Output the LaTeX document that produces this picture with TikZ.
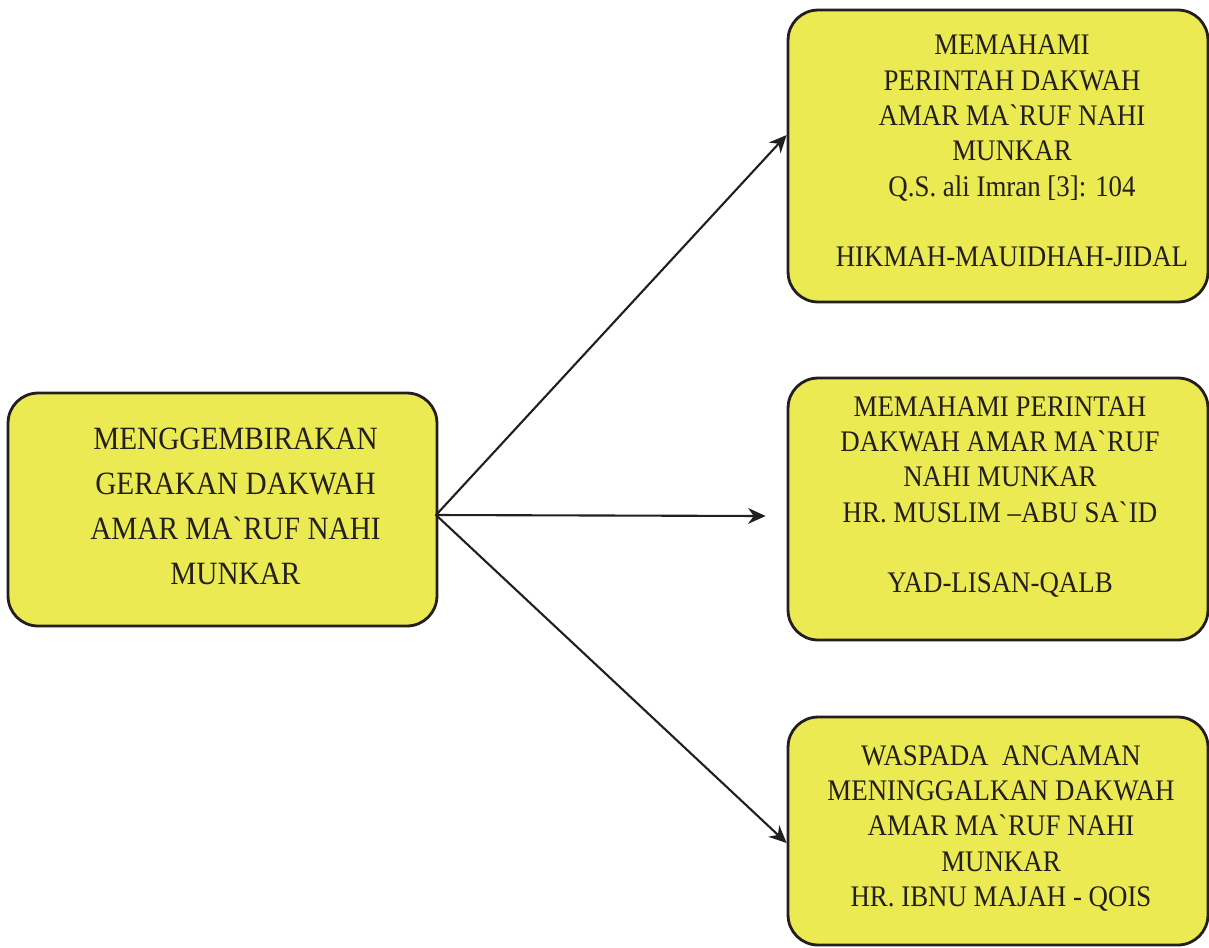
\documentclass[tikz,border=0pt]{standalone}
\usepackage{fontspec}
\setmainfont{Liberation Serif}[FakeStretch=0.9]
\usetikzlibrary{arrows.meta}
\definecolor{boxfill}{RGB}{236,234,82}
\definecolor{ink}{RGB}{35,31,32}
\newcommand{\gr}{\textasciigrave}
\begin{document}
\begin{tikzpicture}[x=0.02cm, y=-0.02cm, line join=round, line cap=round, >={Stealth[length=10pt,width=9pt]}]
	\tikzset{
		dakwahbox/.style={draw=ink, line width=1.6pt, fill=boxfill, rounded corners=0.6cm, inner sep=0pt},
		boxtext/.style={text=ink, align=center, inner sep=0pt, font=\fontsize{17}{20.1}\selectfont},
		link/.style={->, draw=ink, line width=1.2pt}
	}
	\useasboundingbox (0,0) rectangle (1209,947);
	% boxes
	\node[dakwahbox, minimum width=8.58cm, minimum height=4.66cm] (pokok) at (222.5,509.5) {};
	\node[dakwahbox, minimum width=8.4cm, minimum height=5.84cm] (tahu) at (998,156) {};
	\node[dakwahbox, minimum width=8.4cm, minimum height=5.24cm] (pahami) at (998,509) {};
	\node[dakwahbox, minimum width=8.4cm, minimum height=4.56cm] (waspada) at (998,831) {};
	% texts
	\node[boxtext, font=\fontsize{18.5}{25.6}\selectfont] (pokoktxt) at (235.5,506) {MENGGEMBIRAKAN\\GERAKAN DAKWAH\\AMAR MA\gr RUF NAHI\\MUNKAR};
	\node[boxtext] (tahutxt) at (1012,151) {MEMAHAMI\\PERINTAH DAKWAH\\AMAR MA\gr RUF NAHI\\MUNKAR\\Q.S. ali Imran [3]: 104\\[20.1pt]HIKMAH-MAUIDHAH-JIDAL};
	\node[boxtext] (pahamitxt) at (1000,497) {MEMAHAMI PERINTAH\\DAKWAH AMAR MA\gr RUF\\NAHI MUNKAR\\HR. MUSLIM –ABU SA\gr ID\\[20.1pt]YAD-LISAN-QALB};
	\node[boxtext] (waspadatxt) at (1001,828.5) {WASPADA\ \ ANCAMAN\\MENINGGALKAN DAKWAH\\AMAR MA\gr RUF NAHI\\MUNKAR\\HR. IBNU MAJAH - QOIS};
	% arrows
	\coordinate (hub) at (436,515);
	\draw[link] (hub) -- ([yshift=0.42cm]tahu.west);
	\draw[link] (hub) -- ([xshift=-0.42cm,yshift=-0.14cm]pahami.west);
	\draw[link] (hub) -- ([yshift=-0.24cm]waspada.west);
\end{tikzpicture}
\end{document}
